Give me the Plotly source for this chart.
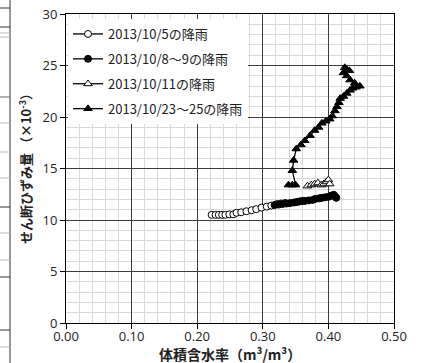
import plotly.graph_objects as go

# --- data ---
s1_name = "2013/10/5の降雨"
s1_x = [0.222, 0.228, 0.233, 0.238, 0.243, 0.249, 0.255, 0.260, 0.267, 0.275, 0.283, 0.290, 0.298, 0.306, 0.313, 0.322, 0.328, 0.334]
s1_y = [10.5, 10.5, 10.5, 10.5, 10.5, 10.55, 10.55, 10.7, 10.75, 10.85, 10.95, 11.05, 11.2, 11.3, 11.4, 11.55, 11.6, 11.65]

s2_name = "2013/10/8～9の降雨"
s2_x = [0.318, 0.324, 0.330, 0.336, 0.342, 0.348, 0.352, 0.356, 0.360, 0.364, 0.370, 0.376, 0.380, 0.386, 0.390, 0.395, 0.400, 0.404, 0.408, 0.410, 0.412]
s2_y = [11.45, 11.5, 11.55, 11.6, 11.65, 11.7, 11.75, 11.8, 11.85, 11.85, 11.9, 11.95, 12.05, 12.1, 12.15, 12.2, 12.25, 12.35, 12.45, 12.3, 12.15]

s3_name = "2013/10/11の降雨"
s3_x = [0.368, 0.374, 0.379, 0.384, 0.389, 0.393, 0.397, 0.400, 0.402]
s3_y = [13.3, 13.4, 13.5, 13.6, 13.4, 13.5, 13.7, 13.9, 13.5]

s4_name = "2013/10/23～25の降雨"
s4_x = [0.339, 0.345, 0.350, 0.345, 0.347, 0.351, 0.358, 0.364, 0.372, 0.379, 0.385, 0.390, 0.396, 0.402, 0.406, 0.410, 0.413, 0.416, 0.418, 0.423, 0.428, 0.433, 0.437, 0.442, 0.448, 0.440, 0.433, 0.428, 0.423, 0.428, 0.432, 0.425]
s4_y = [13.4, 13.4, 13.4, 14.8, 15.8, 16.9, 17.3, 17.7, 18.2, 18.7, 19.0, 19.4, 19.6, 19.8, 20.1, 20.6, 21.0, 21.4, 21.8, 22.0, 22.3, 22.6, 22.8, 22.9, 23.0, 23.3, 23.6, 24.0, 24.3, 24.6, 24.5, 24.8]

x_title = "体積含水率（m³/m³）"
y_title = "せん断ひずみ量 （×10<sup>-3</sup>）"

FONT = "Noto Sans CJK JP"
TICKFONT = "Open Sans"

fig = go.Figure()

def add(name, xs, ys, symbol, fill, size, grp):
    fig.add_trace(go.Scatter(
        x=xs, y=ys, name=name, mode="lines+markers", legendgroup=grp,
        line=dict(color="black", width=1.3),
        marker=dict(symbol=symbol, size=size, color=fill, line=dict(color="black", width=1)),
    ))

add(s1_name, s1_x, s1_y, "circle", "white", 7, "a")
add(s2_name, s2_x, s2_y, "circle", "black", 7, "b")
add(s3_name, s3_x, s3_y, "triangle-up", "white", 7.5, "c")
add(s4_name, s4_x, s4_y, "triangle-up", "black", 7.5, "d")

L, R, T, B = 66, 28, 14, 40
W, H = 422, 363
pw, ph = W - L - R, H - T - B

def px(x):
    return (x - L) / pw

def py(y):
    return (H - B - y) / ph

shapes = []
# remnant of neighbouring chart on the left edge
shapes.append(dict(type="line", xref="paper", yref="paper", x0=px(10), x1=px(10), y0=py(0), y1=py(363),
                   line=dict(color="#333", width=1)))
for yy, c in [(8, "#333"), (27, "#333"), (33, "#bbb"), (37, "#bbb"), (97, "#666"), (123, "#bbb"),
              (152, "#bbb"), (178, "#bbb"), (207, "#333"), (233, "#bbb"), (260, "#bbb"),
              (277, "#333"), (330, "#333"), (347, "#bbb")]:
    shapes.append(dict(type="line", xref="paper", yref="paper", x0=px(0), x1=px(10), y0=py(yy), y1=py(yy),
                       line=dict(color=c, width=1)))

annotations = [
    dict(text=x_title, xref="paper", yref="paper", x=px(230), y=py(354), xanchor="center", yanchor="middle",
         showarrow=False, font=dict(size=14, weight="bold", color="#222")),
    dict(text=y_title, xref="paper", yref="paper", x=px(25), y=py(166), xanchor="center", yanchor="middle",
         textangle=-90, showarrow=False, font=dict(size=13, weight="bold", color="#222")),
]

fig.update_layout(
    width=W, height=H,
    margin=dict(l=L, r=R, t=T, b=B, autoexpand=False),
    paper_bgcolor="white", plot_bgcolor="white",
    font=dict(family=FONT, size=13, color="#222"),
    showlegend=True,
    legend=dict(x=px(68), y=py(19), xanchor="left", yanchor="top",
                bgcolor="white", borderwidth=0, font=dict(size=13, color="#222"),
                tracegroupgap=5, traceorder="grouped", itemwidth=30),
    shapes=shapes,
    annotations=annotations,
    xaxis=dict(range=[0, 0.5], dtick=0.1, tick0=0, tickformat=".2f",
               showgrid=True, gridcolor="#3c3c3c", gridwidth=1,
               minor=dict(dtick=0.02, showgrid=True, gridcolor="#d9d9d9", gridwidth=1),
               showline=True, linecolor="black", linewidth=1, mirror=True,
               ticks="outside", ticklen=5, tickcolor="black", zeroline=False,
               ticklabelstandoff=-4,
               tickfont=dict(family=TICKFONT, size=13, color="#222")),
    yaxis=dict(range=[0, 30], dtick=5, tick0=0,
               showgrid=True, gridcolor="#3c3c3c", gridwidth=1,
               minor=dict(dtick=1, showgrid=True, gridcolor="#d9d9d9", gridwidth=1),
               showline=True, linecolor="black", linewidth=1, mirror=True,
               ticks="outside", ticklen=5, tickcolor="black", zeroline=False,
               tickfont=dict(family=TICKFONT, size=13, color="#222")),
)

post = ("document.body.style.margin='0';"
        "var gd=document.getElementById('{plot_id}');"
        "gd.style.position='fixed';gd.style.left='0px';gd.style.top='0px';")

fig.write_html("out.html", post_script=post, config={"displayModeBar": False})
